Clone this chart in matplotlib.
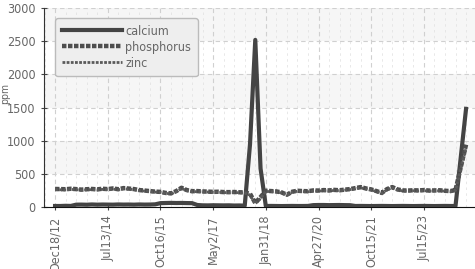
import numpy as np
import matplotlib.pyplot as plt
from matplotlib.ticker import MultipleLocator
from matplotlib import font_manager

# sample labels (one label every 10 samples)
tick_labels = ["Dec18/12", "Jul13/14", "Oct16/15", "May2/17",
               "Jan31/18", "Apr27/20", "Oct15/21", "Jul15/23"]

calcium = [15, 15, 18, 16, 35, 36, 34, 38, 35, 37, 36, 35, 38, 36, 37, 35,
           38, 36, 37, 40, 58, 60, 62, 60, 61, 59, 58, 30, 25, 24, 26, 25,
           24, 25, 22, 23, 20, 945, 2520, 580, 15, 16, 15, 14, 15, 16, 15,
           15, 16, 28, 30, 30, 28, 29, 30, 28, 27, 15, 16, 15, 14, 15, 16,
           15, 14, 15, 16, 15, 14, 15, 16, 15, 14, 15, 16, 15, 15, 750, 1480]

phosphorus = [272, 270, 268, 275, 270, 262, 268, 272, 266, 275, 270, 280,
              268, 285, 278, 270, 255, 248, 240, 232, 228, 212, 205, 240,
              290, 255, 238, 240, 235, 232, 228, 230, 225, 224, 226, 222,
              220, 200, 60, 150, 245, 240, 235, 220, 185, 230, 245, 240,
              238, 250, 248, 255, 250, 258, 252, 262, 270, 285, 300, 280,
              265, 240, 212, 270, 300, 265, 250, 248, 252, 250, 255, 248,
              250, 252, 245, 240, 255, 600, 940]

zinc = [262, 260, 258, 265, 262, 255, 260, 262, 258, 266, 262, 270,
        260, 275, 268, 262, 248, 240, 232, 225, 220, 205, 200, 232,
        280, 248, 230, 232, 228, 225, 220, 222, 218, 216, 218, 215,
        212, 180, 50, 130, 235, 232, 228, 212, 180, 222, 238, 232,
        230, 242, 240, 246, 242, 250, 245, 254, 262, 276, 290, 272,
        258, 232, 205, 262, 290, 258, 242, 240, 245, 242, 246, 240,
        242, 245, 238, 232, 248, 570, 890]

idx = np.arange(len(calcium))

names = {f.name for f in font_manager.fontManager.ttflist}
narrow = [n for n in ('Liberation Sans Narrow', 'DejaVu Sans') if n in names]
plt.rcParams['font.family'] = narrow
plt.rcParams['font.stretch'] = 'condensed'

fig = plt.figure(figsize=(4.75, 2.69), dpi=100)
ax = fig.add_axes([0.0926, 0.2305, 0.9074, 0.7395])

# alternating light bands
for lo in (500, 1500, 2500):
    ax.axhspan(lo, lo + 500, color='#f6f6f6', zorder=0, lw=0)

ax.plot(idx, calcium, color='#444444', lw=3, label='calcium', zorder=3)
ax.plot(idx, phosphorus, color='#4d4d4d', lw=3.2, ls=(0, (1, 0.35)),
        label='phosphorus', zorder=4)
ax.plot(idx, zinc, color='#5a5a5a', lw=2, ls=(0, (1, 0.5)),
        label='zinc', zorder=4)

ax.set_xlim(-2.1, 79.7)
ax.set_ylim(0, 3000)
ax.set_xticks(np.arange(0, 10 * len(tick_labels), 10))
ax.set_xticklabels(tick_labels, rotation=90)
ax.xaxis.set_minor_locator(MultipleLocator(2))
ax.set_yticks(np.arange(0, 3001, 500))

ax.grid(True, which='major', color='#d0d0d0', ls=(0, (4, 3)), lw=0.8)
ax.grid(True, which='minor', axis='x', color='#e4e4e4', ls=(0, (3, 4)), lw=0.6)
ax.set_axisbelow(True)

for s in ('top', 'right'):
    ax.spines[s].set_visible(False)
ax.spines['left'].set_color('#333333')
ax.spines['bottom'].set_color('#111111')
ax.tick_params(axis='both', which='major', direction='inout', length=5,
               color='#444444', labelcolor='#666666', labelsize=9)
ax.tick_params(axis='x', which='minor', length=0)
fig.text(5 / 475, 1 - 93 / 269, 'ppm', rotation=90, ha='center',
         va='center', color='#666666', fontsize=7.5)

leg = ax.legend(loc='upper left', bbox_to_anchor=(0.012, 0.98), fontsize=9,
                handlelength=4.8, handletextpad=0.3, labelspacing=0.25,
                fancybox=True, framealpha=1, facecolor='#eeeeee',
                edgecolor='#bbbbbb', borderpad=0.5)
for t in leg.get_texts():
    t.set_color('#666666')

fig.savefig('out.png', dpi=100)
